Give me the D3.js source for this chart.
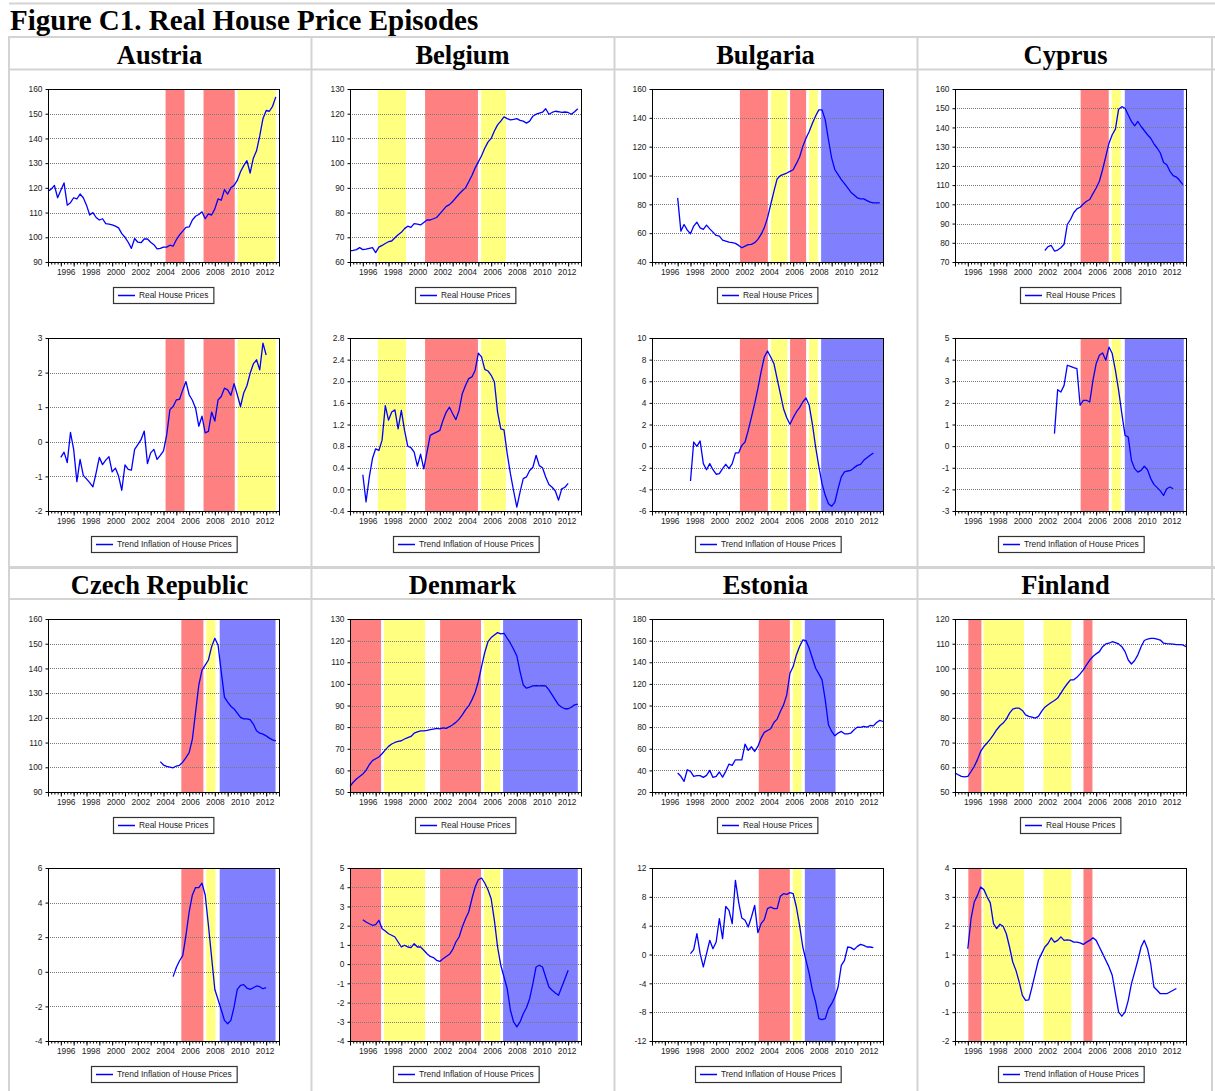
<!DOCTYPE html>
<html>
<head>
<meta charset="utf-8">
<script src="https://cdn.jsdelivr.net/npm/d3@7"></script>
<style>
  body { margin: 0; background: #fff; }
  svg { display: block; }
</style>
</head>
<body>
<svg id="fig"></svg>
<script>
// ---- data (quarterly) ----
const countries = ["Austria", "Belgium", "Bulgaria", "Cyprus", "Czech Republic", "Denmark", "Estonia", "Finland"];

const austriaPrice = [118.6,119.5,121,116,119,122,113,114,116,115.5,117.5,116,113,109,110,108,107,107.5,105.5,105.3,105,104.5,103.8,101.5,100,98,95.5,99.5,98,97.8,99.3,99.3,98,97,95.3,95.5,96,96,96.8,96.4,99,101,102.5,104,104.2,107,108.5,109.2,110.3,107.5,109.5,109,111.5,115.5,115,119.3,117.5,120,121,123,126.5,129,131,126,132,135,141,148,151.3,151,153,156.8];
const austriaTrend = [-0.45,-0.3,-0.6,0.27,-0.22,-1.15,-0.51,-0.97,-1.07,-1.18,-1.3,-0.9,-0.45,-0.66,-0.53,-0.43,-0.87,-0.76,-0.99,-1.4,-0.67,-0.8,-0.82,-0.22,-0.08,0.06,0.31,-0.63,-0.32,-0.22,-0.51,-0.39,-0.26,0.2,0.93,1.02,1.21,1.23,1.5,1.74,1.36,1.2,0.97,0.45,0.74,0.26,0.3,0.86,0.6,1.21,1.31,1.55,1.5,1.34,1.68,1.36,1.02,1.41,1.62,1.98,2.25,2.37,2.08,2.85,2.51];

const belgiumPrice = [64.5,64.7,65,65.8,65,65.2,65.5,65.8,63.8,66,66.7,67.5,68.2,68.5,69.8,71,72,73.5,74.5,74,75.5,75.3,75,76,77,77,77.5,78,79.5,81,82.5,83.2,84.5,86,87.5,88.8,90,92.5,95,98,100.5,103,106,108.5,110,113,115.5,117,118.7,118,117.5,117.7,118,117.3,117,116.2,117,119,119.8,120.2,120.6,122,119.8,120.5,121,120.8,120.5,120.7,120.5,119.8,120.8,122];
const belgiumTrend = [0.27,-0.23,0.22,0.57,0.75,0.72,0.91,1.55,1.28,1.43,1.47,1.12,1.46,1.09,0.8,0.77,0.69,0.43,0.65,0.38,0.69,1.0,1.03,1.06,1.09,1.28,1.43,1.52,1.4,1.29,1.46,1.77,1.92,2.05,2.08,2.2,2.52,2.45,2.22,2.19,2.11,1.99,1.43,1.12,1.1,0.66,0.29,-0.03,-0.33,-0.05,0.2,0.23,0.35,0.41,0.63,0.44,0.4,0.23,0.09,0.04,-0.03,-0.2,0.01,0.04,0.11];

const bulgariaPrice = [84.5,61.4,66,62.1,59.6,64.9,67.6,63.7,62.6,65.6,63,60.7,58.4,58,55.2,54.5,53.8,53.4,52.9,51.5,49.9,51,52,52.2,53.4,55.7,59.1,63.7,70.6,79.9,89,97.6,99.9,100.8,101.7,102.9,104,108.2,112.8,120.2,125.9,130.5,136.3,141.3,145.5,145.5,138.6,124.8,112.1,104,100.6,97.1,94.4,91.4,88.4,86.5,84.5,83.8,83.8,82.6,81.5,81,81,81];
const bulgariaTrend = [-3.22,0.38,-0.02,0.48,-1.62,-2.18,-1.62,-2.18,-2.6,-2.55,-2.08,-1.68,-2.08,-1.62,-0.63,-0.63,0.07,0.38,1.46,2.69,3.93,5.31,6.86,8.24,8.8,8.24,7.63,6.24,4.85,3.46,2.63,2.02,2.63,3.16,3.56,4.08,4.45,3.77,2.02,-0.08,-1.87,-3.47,-4.55,-5.32,-5.57,-5.17,-3.93,-2.85,-2.39,-2.3,-2.24,-1.99,-1.78,-1.68,-1.31,-1.07,-0.85,-0.63];

const cyprusPrice = [76,78,78.6,75.7,76.2,77.4,79.2,89.5,92.1,95.6,97.6,98.5,100.2,101.6,102.5,105.6,108.5,112,118,124.9,131.8,136.2,139.1,149.5,150.8,150,146.5,143.1,140.8,143.1,140.5,138.4,136.2,134.4,131.5,129.3,126.7,121.8,120.6,117.2,114.9,114.2,112.5,110.2];
const cyprusTrend = [0.58,2.61,2.5,2.81,3.74,3.69,3.63,3.58,1.89,2.12,2.12,2.04,3.04,3.81,4.2,4.31,3.97,4.58,4.28,3.5,2.58,1.5,0.5,0.42,-0.66,-1.04,-1.2,-1.12,-0.93,-1.09,-1.5,-1.77,-1.92,-2.07,-2.28,-1.97,-1.89,-1.97];

const czechPrice = [102.3,100.9,100.4,100.1,99.8,100.5,100.8,102.1,103.9,105.9,111.4,122.3,133.2,139.3,141.3,143.4,148.8,152.2,149.5,138.6,128.4,126.4,124.7,123.6,121.9,120.2,119.6,119.6,119.3,117.5,114.8,113.8,113.4,112.7,111.8,111.1,110.7];
const czechTrend = [-0.28,0.25,0.64,0.93,2.1,3.47,4.44,4.87,4.87,5.12,4.44,2.69,0.83,-1.02,-1.6,-2.19,-2.81,-3.0,-2.81,-2.03,-1.02,-0.78,-0.74,-0.94,-1.02,-0.92,-0.82,-0.86,-0.98,-0.92];

const denmarkPrice = [52.6,54.5,56,57.2,58.3,60,62.6,64.5,65.4,66.2,67.7,69.5,71.1,72.2,72.9,73.4,73.7,74.5,75.1,75.7,77.2,77.8,78.3,78.3,78.5,78.8,79.1,79.4,79.2,79.7,79.4,80.2,81.1,82.2,83.7,85.7,88,89.8,92.6,96,101.1,108,114.5,119.5,121.4,122.6,123.7,123.1,123.4,121.1,118.8,116,112.9,105.7,99.5,98,98.5,99.1,99.2,99.1,99.2,99.1,97.2,94.9,92.6,90.3,89.2,88.5,88.5,89.2,90.3,90.6];
const denmarkTrend = [2.31,2.19,2.1,2.02,2.05,2.28,1.84,1.72,1.58,1.5,1.41,1.15,0.89,0.98,0.89,0.86,1.06,0.89,0.89,0.72,0.54,0.4,0.34,0.2,0.14,0.28,0.4,0.51,0.75,1.15,1.41,1.93,2.36,2.71,3.4,4.01,4.39,4.48,4.22,3.87,3.4,2.28,0.89,-0.06,-0.67,-1.28,-2.4,-3.01,-3.27,-3.01,-2.58,-2.27,-1.8,-1.02,-0.15,-0.06,-0.15,-0.67,-1.19,-1.36,-1.5,-1.62,-1.19,-0.76,-0.32];

const estoniaPrice = [37.5,34.5,29.8,40.6,39.1,34.5,35.1,35.1,33.5,35.4,40,33.5,34.5,38.5,33.8,39.1,45.8,44.6,49.8,49.8,49.8,64.3,58.5,61.8,57.5,62.2,69.8,75.1,76.9,78.5,84.3,87.4,94.5,100.6,109.8,129.8,136,146.8,154.5,160.6,160,152.9,143.7,134.5,129.2,123.7,105.2,82.2,76,72,74.5,76,73.8,73.8,74.5,77.5,80,79.7,80.6,80,81.5,81.2,84.3,86.2,85.2];
const estoniaTrend = [0.12,0.67,2.89,0.12,-1.73,0.12,1.97,0.81,1.73,4.97,2.2,6.68,6.13,4.28,10.29,7.28,5.06,4.74,3.81,5.2,6.82,3.03,4.28,4.83,6.36,6.59,6.36,6.36,8.07,8.44,8.35,8.58,8.44,6.59,4.05,1.04,-0.81,-2.66,-4.97,-6.59,-8.9,-9.04,-8.9,-7.51,-6.82,-5.9,-4.51,-1.5,-0.81,1.04,0.95,0.67,1.13,1.41,1.27,1.04,1.04,0.95];

const finlandPrice = [57.7,57,56.3,56.1,56.3,58.3,60.4,63.1,66.4,68.4,69.8,71.4,73.2,75.2,76.8,77.9,79.5,81.9,83.5,83.9,83.9,83,81.2,80.6,80.3,79.9,80.6,82.6,84.3,85.3,86.2,87,88,90,92,93.8,95.4,95.4,96.4,97.8,99.4,101.4,103.4,104.8,105.9,106.8,108.8,109.9,110.2,110.8,110.4,109.9,108.8,106.8,103.4,101.8,103.2,105.5,108.8,111.3,111.9,112.2,112.2,111.9,111.5,110.2,110,109.9,109.8,109.6,109.6,109.5,108.8];
const finlandTrend = [1.2,2.24,2.82,3.05,3.34,3.25,3.0,2.79,2.07,1.9,2.05,1.98,1.72,1.26,0.74,0.45,0.05,-0.42,-0.59,-0.57,-0.13,0.34,0.8,1.03,1.26,1.38,1.58,1.43,1.49,1.61,1.49,1.51,1.49,1.43,1.43,1.4,1.35,1.43,1.49,1.58,1.49,1.26,1.03,0.8,0.57,0.28,-0.36,-1.0,-1.14,-1.0,-0.59,-0.01,0.39,0.8,1.26,1.49,1.2,0.68,-0.13,-0.24,-0.36,-0.36,-0.36,-0.3,-0.24,-0.18];

// first quarter of each series
const priceStart = ["1995Q1", "1995Q1", "1997Q1", "2002Q1", "2003Q4", "1995Q1", "1997Q1", "1995Q1"];
const trendStart = ["1996Q1", "1996Q1", "1998Q1", "2002Q4", "2004Q4", "1996Q1", "1998Q1", "1996Q1"];

// y axis [min, max, step]
const priceAxis = [[90,160,10],[60,130,10],[40,160,20],[70,160,10],[90,160,10],[50,130,10],[20,180,20],[50,120,10]];
const trendAxis = [[-2,3,1],[-0.4,2.8,0.4],[-6,10,2],[-3,5,1],[-4,6,2],[-4,5,1],[-12,12,4],[-2,4,1]];

// shaded episodes: [colour, from, to] in years
const austriaEpisodes = [["r",2004.16,2005.64],["r",2007.12,2009.55],["y",2009.78,2012.74]];
const belgiumEpisodes = [["y",1997.17,1999.37],["r",2000.85,2004.97],["y",2005.22,2007.15]];
const bulgariaEpisodes = [["r",2001.85,2004.03],["y",2004.27,2005.55],["r",2005.76,2007.01],["y",2007.24,2007.92],["b",2008.18,2013]];
const cyprusEpisodes = [["r",2004.79,2006.98],["y",2007.21,2007.92],["b",2008.23,2012.83]];
const czechEpisodes = [["r",2005.39,2007.11],["y",2007.34,2008.05],["b",2008.38,2012.73]];
const denmarkEpisodes = [["r",1995.0,1997.42],["y",1997.65,2000.85],["r",2002.02,2005.21],["y",2005.45,2006.7],["b",2006.93,2012.75]];
const estoniaEpisodes = [["r",2003.32,2005.74],["y",2005.97,2006.65],["b",2006.91,2009.3]];
const finlandEpisodes = [["r",1996.04,1997.06],["y",1997.21,2000.38],["y",2001.89,2004.07],["r",2005.01,2005.71]];

const yearLabels = [1996, 1998, 2000, 2002, 2004, 2006, 2008, 2010, 2012];

const priceSeries = [austriaPrice, belgiumPrice, bulgariaPrice, cyprusPrice, czechPrice, denmarkPrice, estoniaPrice, finlandPrice];
const trendSeries = [austriaTrend, belgiumTrend, bulgariaTrend, cyprusTrend, czechTrend, denmarkTrend, estoniaTrend, finlandTrend];
const episodes = [austriaEpisodes, belgiumEpisodes, bulgariaEpisodes, cyprusEpisodes, czechEpisodes, denmarkEpisodes, estoniaEpisodes, finlandEpisodes];

// ---- layout ----
const W = 1215, H = 1091;
const plotW = 231, plotH = 173;
const plotLeft = [48, 350, 652, 955];
const chartTop = [[89, 338], [619, 868]];
const colMid = [159.5, 462.5, 765.5, 1065.5];
const headerBase = [63.5, 593.5];
const shade = { r: "#ff8080", y: "#ffff80", b: "#8080ff" };
const tickFont = "'Liberation Sans', Arial, sans-serif";
const serif = "'Liberation Serif', 'Times New Roman', serif";
const smallSize = 8.4;

const locale = d3.formatLocale({ decimal: ".", thousands: ",", grouping: [3], currency: ["", ""], minus: "-" });
const quarter = s => +s.slice(0, 4) + (+s.slice(5) - 1) / 4;

const svg = d3.select("#fig").attr("width", W).attr("height", H);

// table borders
const gridColor = "#d3d3d3";
const hRules = [[3.5, 2], [37, 2], [69.5, 2], [567.5, 3], [599, 2]];
svg.selectAll("line.hrule").data(hRules).join("line")
  .attr("x1", 9).attr("x2", W).attr("y1", d => d[0]).attr("y2", d => d[0])
  .attr("stroke", gridColor).attr("stroke-width", d => d[1]);
svg.selectAll("line.vrule").data([9, 311.5, 614.5, 917.5, 1212]).join("line")
  .attr("x1", d => d).attr("x2", d => d).attr("y1", 36).attr("y2", H)
  .attr("stroke", gridColor).attr("stroke-width", 2);

svg.append("text")
  .attr("x", 10).attr("y", 29.5)
  .attr("font-family", serif).attr("font-weight", "bold").attr("font-size", 29)
  .text("Figure C1. Real House Price Episodes");

svg.selectAll("text.country").data(countries).join("text")
  .attr("x", (d, i) => colMid[i % 4])
  .attr("y", (d, i) => headerBase[Math.floor(i / 4)])
  .attr("text-anchor", "middle")
  .attr("font-family", serif).attr("font-weight", "bold").attr("font-size", 26.5)
  .text(d => d);

function drawChart(left, top, values, start, axis, eps, label) {
  const [lo, hi, step] = axis;
  const x = d3.scaleLinear().domain([1995, 2013]).range([left, left + plotW]);
  const y = d3.scaleLinear().domain([lo, hi]).range([top + plotH, top]);
  // EViews centres the year labels slightly inside the observation grid
  const labelX = d3.scaleLinear().domain([1996, 2012]).range([x(1996.38), x(2011.88)]);
  const ticks = d3.range(0, Math.round((hi - lo) / step) + 1).map(i => +(lo + i * step).toFixed(2));
  const g = svg.append("g");

  g.selectAll("rect.ep").data(eps).join("rect")
    .attr("x", d => x(d[1]))
    .attr("width", d => x(Math.min(d[2], 2013)) - x(d[1]))
    .attr("y", top).attr("height", plotH)
    .attr("fill", d => shade[d[0]]);

  g.selectAll("line.grid").data(ticks.slice(1, -1)).join("line")
    .attr("x1", left).attr("x2", left + plotW)
    .attr("y1", d => Math.round(y(d)) + 0.5).attr("y2", d => Math.round(y(d)) + 0.5)
    .attr("stroke", "#7a7a7a").attr("stroke-width", 1).attr("stroke-dasharray", "1,1");

  const t0 = quarter(start);
  g.append("path").datum(values)
    .attr("d", d3.line().x((d, i) => x(t0 + i / 4)).y(d => y(d)))
    .attr("fill", "none").attr("stroke", "#0000ff").attr("stroke-width", 1.3)
    .attr("stroke-linejoin", "round");

  g.append("rect")
    .attr("x", left + 0.5).attr("y", top + 0.5).attr("width", plotW).attr("height", plotH)
    .attr("fill", "none").attr("stroke", "#000").attr("stroke-width", 1);

  const fmt = step < 1 ? locale.format(".1f") : locale.format("d");
  const ya = g.append("g").attr("transform", `translate(${left + 0.5},0)`)
    .call(d3.axisLeft(y).tickValues(ticks).tickSize(3).tickPadding(3).tickFormat(fmt));
  ya.select(".domain").remove();

  const bottom = top + plotH + 0.5;
  const xq = g.append("g").attr("transform", `translate(0,${bottom})`)
    .call(d3.axisBottom(x).tickValues(d3.range(0, 73).map(i => 1995 + i / 4)).tickSize(2).tickFormat(""));
  xq.select(".domain").remove();
  const xy = g.append("g").attr("transform", `translate(0,${bottom})`)
    .call(d3.axisBottom(x).tickValues(d3.range(1995, 2014)).tickSize(4).tickFormat(""));
  xy.select(".domain").remove();
  const xl = g.append("g").attr("transform", `translate(0,${bottom})`)
    .call(d3.axisBottom(labelX).tickValues(yearLabels).tickSize(0).tickPadding(6.3).tickFormat(d3.format("d")));
  xl.select(".domain").remove();

  [ya, xq, xy, xl].forEach(a => {
    a.attr("font-family", tickFont).attr("font-size", smallSize);
    a.selectAll("text").attr("fill", "#222");
    a.selectAll("line").attr("stroke", "#000");
  });

  // legend
  const by = top + plotH + 25;
  const lg = g.append("g");
  const txt = lg.append("text")
    .attr("y", by + 11.4)
    .attr("font-family", tickFont).attr("font-size", smallSize).attr("fill", "#222")
    .text(label);
  const tw = txt.node().getComputedTextLength();
  const bw = tw + 31;
  const bx = Math.round(left + plotW / 2 - bw / 2);
  txt.attr("x", bx + 26);
  lg.insert("rect", "text")
    .attr("x", bx + 0.5).attr("y", by + 0.5).attr("width", bw).attr("height", 16)
    .attr("fill", "#fff").attr("stroke", "#333").attr("stroke-width", 1.2);
  lg.append("line")
    .attr("x1", bx + 5).attr("x2", bx + 22).attr("y1", by + 8.5).attr("y2", by + 8.5)
    .attr("stroke", "#0000ff").attr("stroke-width", 1.5);
}

countries.forEach((c, i) => {
  const col = i % 4, row = Math.floor(i / 4);
  drawChart(plotLeft[col], chartTop[row][0], priceSeries[i], priceStart[i], priceAxis[i], episodes[i], "Real House Prices");
  drawChart(plotLeft[col], chartTop[row][1], trendSeries[i], trendStart[i], trendAxis[i], episodes[i], "Trend Inflation of House Prices");
});
</script>
</body>
</html>
